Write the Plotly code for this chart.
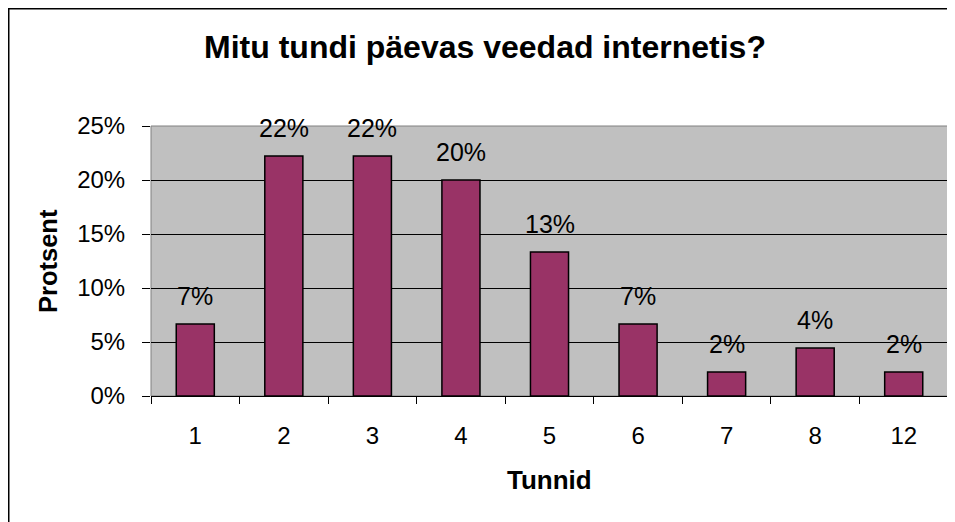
import plotly.graph_objects as go

categories = ["1", "2", "3", "4", "5", "6", "7", "8", "12"]
shares = [3/45, 10/45, 10/45, 9/45, 6/45, 3/45, 1/45, 2/45, 1/45]
y_ticks = [0, 0.05, 0.10, 0.15, 0.20, 0.25]

title_text = "Mitu tundi päevas veedad internetis?"
x_title = "Tunnid"
y_title = "Protsent"

FONT = "Liberation Sans, Arial, sans-serif"

fig = go.Figure(go.Bar(
    x=categories, y=shares,
    marker=dict(color="#993366", line=dict(color="black", width=1.5)),
    hoverinfo="skip",
))

# data labels above each bar (category axis: position by category index)
for i, v in enumerate(shares):
    fig.add_annotation(x=i, y=v, xref="x", yref="y", text=f"{v:.0%}",
                       showarrow=False, yanchor="middle", yshift=28,
                       font=dict(family=FONT, size=25, color="black"))

W, H = 947, 514
L, R, T, B = 143, 7, 118, 126
pw, ph = W - L - R, H - T - B

fig.update_layout(
    width=W, height=H,
    margin=dict(l=L, r=R, t=T, b=B),
    paper_bgcolor="white", plot_bgcolor="#C0C0C0",
    bargap=0.57,
    showlegend=False,
    font=dict(family=FONT, color="black"),
    title=dict(text="<b>" + title_text + "</b>", x=477 / W, xanchor="center",
               y=1 - 39 / H, yanchor="middle",
               font=dict(family=FONT, size=32, color="black")),
    xaxis=dict(
        type="category", categoryorder="array", categoryarray=categories,
        range=[-0.5, len(categories) - 0.5],
        tickson="boundaries", ticks="outside", ticklen=7,
        tickcolor="black", showline=True, linecolor="black", linewidth=1,
        tickfont=dict(family=FONT, size=24), showgrid=False,
        ticklabelstandoff=18,
    ),
    yaxis=dict(
        range=[0, 0.25], tickvals=y_ticks, tickformat=".0%",
        ticks="outside", ticklen=8, tickcolor="black",
        showgrid=True, gridcolor="black", gridwidth=1,
        showline=False, zeroline=False,
        tickfont=dict(family=FONT, size=24),
        ticklabelstandoff=12,
    ),
)

# axis titles
fig.add_annotation(xref="paper", yref="paper", x=0.5, y=(388 - 472) / ph,
                   text="<b>" + x_title + "</b>", showarrow=False,
                   xanchor="center", yanchor="middle",
                   font=dict(family=FONT, size=26, color="black"))
fig.add_annotation(xref="paper", yref="paper", x=(40 - L) / pw, y=0.5,
                   text="<b>" + y_title + "</b>", showarrow=False, textangle=-90,
                   xanchor="center", yanchor="middle",
                   font=dict(family=FONT, size=25.5, color="black"))

# plot area border (gray)
fig.add_shape(type="rect", xref="paper", yref="paper", x0=0, x1=1, y0=0, y1=1,
              line=dict(color="#808080", width=1), layer="below")
# outer chart border (cropped at right and bottom)
fig.add_shape(type="rect", xref="paper", yref="paper",
              x0=(0.5 - L) / pw, x1=1.2, y0=-1.0, y1=(H - B - 0.5) / ph,
              line=dict(color="black", width=2))

fig.write_html("out.html")
